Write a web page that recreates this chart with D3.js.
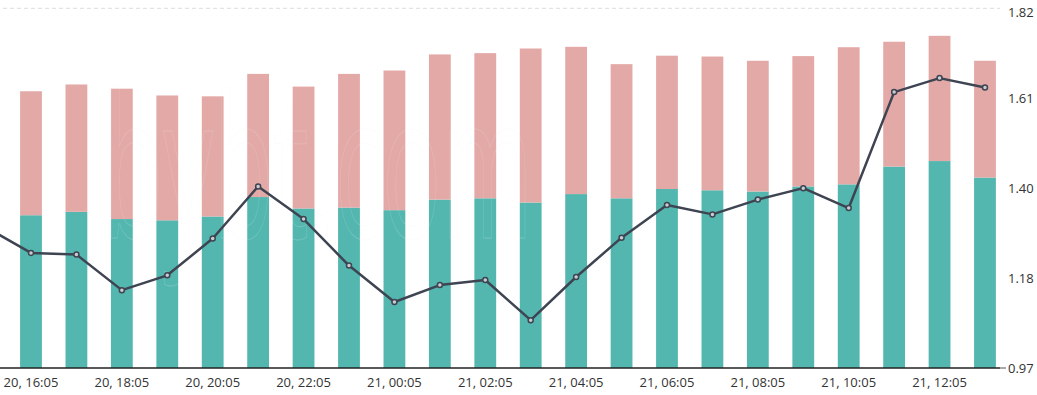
<!DOCTYPE html>
<html>
<head>
<meta charset="utf-8">
<script src="https://cdn.jsdelivr.net/npm/d3@7"></script>
<style>
  html, body { margin: 0; padding: 0; background: #fff; }
  svg { display: block; }
  .axis text { fill: #333; font-size: 13px; font-family: "Open Sans", "Noto Sans", sans-serif; }
</style>
</head>
<body>
<svg id="chart" width="1037" height="395"></svg>
<script>
// hourly slots; the first one sits just left of the visible area
var hours = [
    "20, 15:05", "20, 16:05", "20, 17:05", "20, 18:05", "20, 19:05", "20, 20:05",
    "20, 21:05", "20, 22:05", "20, 23:05", "21, 00:05", "21, 01:05", "21, 02:05",
    "21, 03:05", "21, 04:05", "21, 05:05", "21, 06:05", "21, 07:05", "21, 08:05",
    "21, 09:05", "21, 10:05", "21, 11:05", "21, 12:05", "21, 13:05"
];
var xTickLabels = [
    "20, 16:05", "20, 18:05", "20, 20:05", "20, 22:05", "21, 00:05", "21, 02:05",
    "21, 04:05", "21, 06:05", "21, 08:05", "21, 10:05", "21, 12:05"
];
var yTickValues = [0.97, 1.1825, 1.395, 1.6075, 1.82];
var yTickLabels = ["0.97", "1.18", "1.40", "1.61", "1.82"];

// bars, 16:05 .. 13:05 (top of the teal part, top of the pink part)
var longLevel = [1.331, 1.339, 1.322, 1.319, 1.328, 1.374, 1.347, 1.349, 1.343, 1.368, 1.371,
                 1.361, 1.381, 1.371, 1.393, 1.390, 1.387, 1.399, 1.404, 1.446, 1.459, 1.420];
var totalLevel = [1.624, 1.640, 1.630, 1.614, 1.612, 1.665, 1.635, 1.665, 1.673, 1.711, 1.714,
                  1.725, 1.729, 1.688, 1.708, 1.706, 1.696, 1.707, 1.728, 1.741, 1.755, 1.696];
// line, 15:05 .. 13:05
var ratio = [1.303, 1.242, 1.238, 1.154, 1.189, 1.276, 1.399, 1.322, 1.212, 1.126, 1.166, 1.178,
             1.083, 1.185, 1.278, 1.355, 1.333, 1.368, 1.395, 1.348, 1.622, 1.655, 1.633];

var svg = d3.select('#chart');
var plotRight = 1000, baseY = 368, topY = 8.3;

var x = d3.scaleBand()
    .domain(hours)
    .range([-37.15, 1007.7])
    .paddingInner(0.52)
    .paddingOuter(0.26);
var y = d3.scaleLinear().domain([0.97, 1.82]).range([baseY, topY]);
var cx = function(h) { return x(h) + x.bandwidth() / 2; };

svg.append('clipPath').attr('id', 'plot-clip')
  .append('rect')
    .attr('x', 0).attr('y', 0)
    .attr('width', plotRight).attr('height', baseY);

// top dashed grid line
svg.append('line')
    .attr('x1', 3).attr('x2', plotRight)
    .attr('y1', y(1.82)).attr('y2', y(1.82))
    .style('stroke', '#dcdcdc')
    .style('stroke-dasharray', '4,3');

var barHours = hours.slice(1);
var bars = svg.append('g').attr('clip-path', 'url(#plot-clip)');

bars.selectAll('rect.long')
    .data(barHours)
  .enter().append('rect')
    .attr('class', 'long')
    .attr('x', function(h) { return x(h); })
    .attr('width', x.bandwidth())
    .attr('y', function(h, i) { return y(longLevel[i]); })
    .attr('height', function(h, i) { return y(0.97) - y(longLevel[i]); })
    .style('fill', '#53b7b0');

bars.selectAll('rect.short')
    .data(barHours)
  .enter().append('rect')
    .attr('class', 'short')
    .attr('x', function(h) { return x(h); })
    .attr('width', x.bandwidth())
    .attr('y', function(h, i) { return y(totalLevel[i]); })
    .attr('height', function(h, i) { return y(longLevel[i]) - y(totalLevel[i]); })
    .style('fill', '#e3a9a7');

// faint watermark
svg.append('text')
    .attr('x', 103).attr('y', 238)
    .attr('textLength', 430)
    .attr('lengthAdjust', 'spacingAndGlyphs')
    .style('font-family', '"Open Sans", sans-serif')
    .style('font-size', '200px')
    .style('fill', 'none')
    .style('stroke', '#eeeeee')
    .style('stroke-opacity', 0.2)
    .text('bybt.com');

// ratio line
var line = d3.line()
    .x(function(d, i) { return cx(hours[i]); })
    .y(function(d) { return y(d); });

var lineG = svg.append('g').attr('clip-path', 'url(#plot-clip)');
lineG.append('path')
    .datum(ratio)
    .attr('d', line)
    .style('fill', 'none')
    .style('stroke', '#3e4451')
    .style('stroke-width', 2.5)
    .style('stroke-linejoin', 'round');

lineG.selectAll('circle')
    .data(ratio)
  .enter().append('circle')
    .attr('cx', function(d, i) { return cx(hours[i]); })
    .attr('cy', function(d) { return y(d); })
    .attr('r', 2.5)
    .style('fill', '#c9ccd1')
    .style('stroke', '#3e4451')
    .style('stroke-width', 1.5);

// x axis
var xAxis = svg.append('g')
    .attr('class', 'axis')
    .attr('transform', 'translate(0,' + baseY + ')')
    .call(d3.axisBottom(x).tickValues(xTickLabels).tickSize(0).tickPadding(10));
xAxis.select('.domain').remove();

svg.append('line')
    .attr('x1', 0).attr('x2', plotRight)
    .attr('y1', baseY).attr('y2', baseY)
    .style('stroke', '#222')
    .style('stroke-width', 1.5);
svg.append('line')
    .attr('x1', plotRight).attr('x2', plotRight + 6)
    .attr('y1', baseY).attr('y2', baseY)
    .style('stroke', '#555')
    .style('stroke-width', 1);

// y axis on the right
var yAxis = svg.append('g')
    .attr('class', 'axis')
    .attr('transform', 'translate(' + plotRight + ',0)')
    .call(d3.axisRight(y).tickValues(yTickValues).tickSize(0).tickPadding(8)
        .tickFormat(function(d, i) { return yTickLabels[i]; }));
yAxis.select('.domain').remove();
yAxis.selectAll('text')
    .attr('dy', function(d) { return d === 1.82 ? '0.6em' : '0.32em'; });
</script>
</body>
</html>
